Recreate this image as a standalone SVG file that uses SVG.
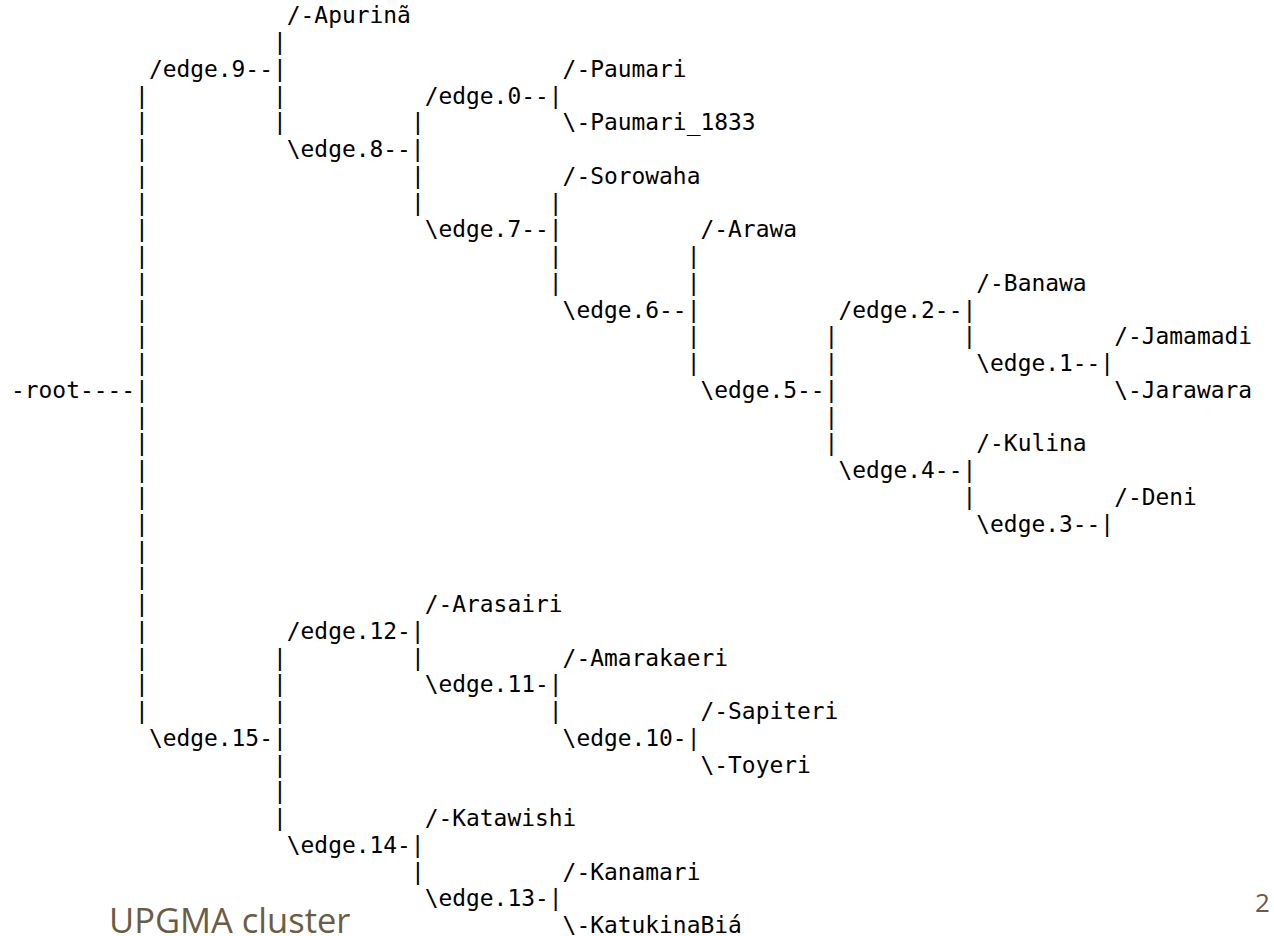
<svg xmlns="http://www.w3.org/2000/svg" width="1274" height="936" viewBox="0 0 1274 936">
<style>
.t{font-family:"DejaVu Sans Mono",monospace;font-size:22.9px;fill:#000;white-space:pre}
.cap{font-family:"Open Sans","Noto Sans",sans-serif;font-size:34.5px;fill:#6b5d44}
.pg{font-family:"Open Sans","Noto Sans",sans-serif;font-size:26px;fill:#6b5d44}
</style>
<rect width="1274" height="936" fill="#fff"/>
<g id="connectors" class="t">
<text x="135.11" y="103.58">|</text><text x="135.11" y="130.34">|</text><text x="135.11" y="157.1">|</text><text x="135.11" y="183.86">|</text><text x="135.11" y="210.62">|</text><text x="135.11" y="237.38">|</text><text x="135.11" y="264.14">|</text><text x="135.11" y="290.9">|</text><text x="135.11" y="317.66">|</text><text x="135.11" y="344.42">|</text><text x="135.11" y="371.18">|</text>
<text x="135.11" y="424.7">|</text><text x="135.11" y="451.46">|</text><text x="135.11" y="478.22">|</text><text x="135.11" y="504.98">|</text><text x="135.11" y="531.74">|</text><text x="135.11" y="558.5">|</text><text x="135.11" y="585.26">|</text><text x="135.11" y="612.02">|</text><text x="135.11" y="638.78">|</text><text x="135.11" y="665.54">|</text><text x="135.11" y="692.3">|</text><text x="135.11" y="719.06">|</text>
<text x="273.01" y="50.06">|</text><text x="273.01" y="103.58">|</text><text x="273.01" y="130.34">|</text>
<text x="273.01" y="665.54">|</text><text x="273.01" y="692.3">|</text><text x="273.01" y="719.06">|</text><text x="273.01" y="772.58">|</text><text x="273.01" y="799.34">|</text><text x="273.01" y="826.1">|</text>
<text x="410.91" y="130.34">|</text><text x="410.91" y="183.86">|</text><text x="410.91" y="210.62">|</text>
<text x="410.91" y="665.54">|</text><text x="410.91" y="879.62">|</text>
<text x="548.81" y="210.62">|</text><text x="548.81" y="264.14">|</text><text x="548.81" y="290.9">|</text><text x="548.81" y="719.06">|</text>
<text x="686.71" y="264.14">|</text><text x="686.71" y="290.9">|</text><text x="686.71" y="344.42">|</text><text x="686.71" y="371.18">|</text>
<text x="824.61" y="344.42">|</text><text x="824.61" y="371.18">|</text><text x="824.61" y="424.7">|</text><text x="824.61" y="451.46">|</text>
<text x="962.51" y="344.42">|</text><text x="962.51" y="504.98">|</text>
</g>
<g id="root" class="t"><text x="11" y="397.94">-root----|</text></g>
<g id="edge9" class="t"><text x="148.9" y="76.82">/edge.9--|</text></g>
<g id="Apurina" class="t"><text x="286.8" y="23.3">/-Apurinã</text></g>
<g id="edge8" class="t"><text x="286.8" y="157.1">\edge.8--|</text></g>
<g id="edge0" class="t"><text x="424.7" y="103.58">/edge.0--|</text></g>
<g id="Paumari" class="t"><text x="562.6" y="76.82">/-Paumari</text></g>
<g id="Paumari_1833" class="t"><text x="562.6" y="130.34">\-Paumari_1833</text></g>
<g id="edge7" class="t"><text x="424.7" y="237.38">\edge.7--|</text></g>
<g id="Sorowaha" class="t"><text x="562.6" y="183.86">/-Sorowaha</text></g>
<g id="edge6" class="t"><text x="562.6" y="317.66">\edge.6--|</text></g>
<g id="Arawa" class="t"><text x="700.5" y="237.38">/-Arawa</text></g>
<g id="edge5" class="t"><text x="700.5" y="397.94">\edge.5--|</text></g>
<g id="edge2" class="t"><text x="838.4" y="317.66">/edge.2--|</text></g>
<g id="Banawa" class="t"><text x="976.3" y="290.9">/-Banawa</text></g>
<g id="edge1" class="t"><text x="976.3" y="371.18">\edge.1--|</text></g>
<g id="Jamamadi" class="t"><text x="1114.2" y="344.42">/-Jamamadi</text></g>
<g id="Jarawara" class="t"><text x="1114.2" y="397.94">\-Jarawara</text></g>
<g id="edge4" class="t"><text x="838.4" y="478.22">\edge.4--|</text></g>
<g id="Kulina" class="t"><text x="976.3" y="451.46">/-Kulina</text></g>
<g id="edge3" class="t"><text x="976.3" y="531.74">\edge.3--|</text></g>
<g id="Deni" class="t"><text x="1114.2" y="504.98">/-Deni</text></g>
<g id="edge15" class="t"><text x="148.9" y="745.82">\edge.15-|</text></g>
<g id="edge12" class="t"><text x="286.8" y="638.78">/edge.12-|</text></g>
<g id="Arasairi" class="t"><text x="424.7" y="612.02">/-Arasairi</text></g>
<g id="edge11" class="t"><text x="424.7" y="692.3">\edge.11-|</text></g>
<g id="Amarakaeri" class="t"><text x="562.6" y="665.54">/-Amarakaeri</text></g>
<g id="edge10" class="t"><text x="562.6" y="745.82">\edge.10-|</text></g>
<g id="Sapiteri" class="t"><text x="700.5" y="719.06">/-Sapiteri</text></g>
<g id="Toyeri" class="t"><text x="700.5" y="772.58">\-Toyeri</text></g>
<g id="edge14" class="t"><text x="286.8" y="852.86">\edge.14-|</text></g>
<g id="Katawishi" class="t"><text x="424.7" y="826.1">/-Katawishi</text></g>
<g id="edge13" class="t"><text x="424.7" y="906.38">\edge.13-|</text></g>
<g id="Kanamari" class="t"><text x="562.6" y="879.62">/-Kanamari</text></g>
<g id="KatukinaBia" class="t"><text x="562.6" y="933.14">\-KatukinaBiá</text></g>
<text class="cap" x="109" y="933">UPGMA cluster</text>
<text class="pg" x="1255" y="912">2</text>
</svg>
